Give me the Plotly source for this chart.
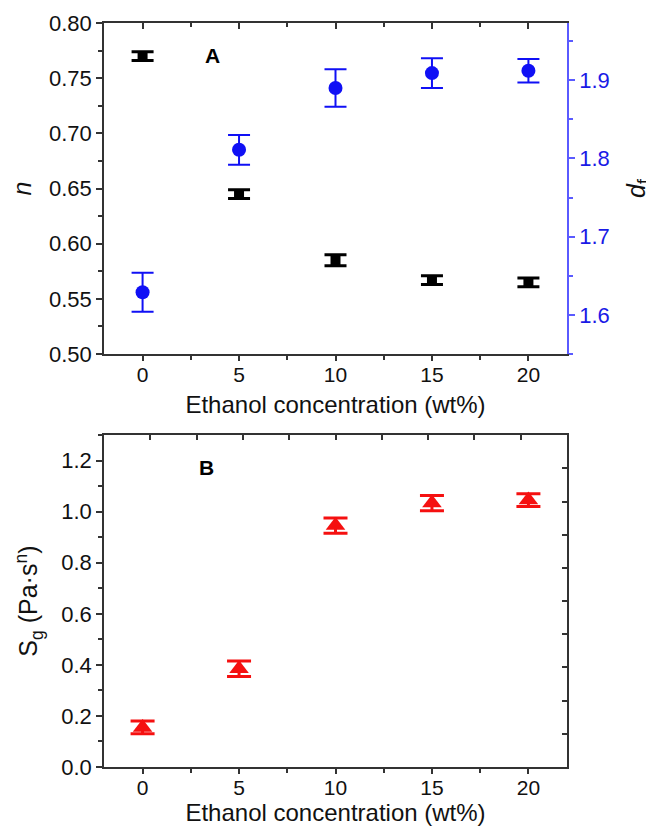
import plotly.graph_objects as go

conc = [0, 5, 10, 15, 20]
n_vals = [0.770, 0.645, 0.585, 0.567, 0.565]
n_err = [0.004, 0.004, 0.005, 0.004, 0.004]
df_vals = [1.629, 1.811, 1.890, 1.909, 1.912]
df_err = [0.025, 0.019, 0.024, 0.019, 0.015]
sg_vals = [0.155, 0.385, 0.946, 1.034, 1.046]
sg_err = [0.025, 0.030, 0.030, 0.030, 0.025]

FONT = "Arial, Liberation Sans, sans-serif"
AX = "#333333"
BLUE = "#1010f5"
RED = "#f51010"

fig = go.Figure()

fig.add_trace(go.Scatter(
    x=conc, y=n_vals, mode="markers", xaxis="x", yaxis="y",
    marker=dict(symbol="square", size=10, color="black"),
    error_y=dict(type="data", array=n_err, color="black", thickness=3, width=11),
    showlegend=False))
fig.add_trace(go.Scatter(
    x=conc, y=df_vals, mode="markers", xaxis="x", yaxis="y2",
    marker=dict(symbol="circle", size=14, color=BLUE),
    error_y=dict(type="data", array=df_err, color=BLUE, thickness=2, width=11),
    showlegend=False))
# invisible helpers for frame axes
fig.add_trace(go.Scatter(x=[None], y=[None], xaxis="x3", yaxis="y", showlegend=False, hoverinfo="skip"))
fig.add_trace(go.Scatter(x=[None], y=[None], xaxis="x4", yaxis="y4", showlegend=False, hoverinfo="skip"))
fig.add_trace(go.Scatter(
    x=conc, y=sg_vals, mode="markers", xaxis="x2", yaxis="y3",
    marker=dict(symbol="triangle-up", size=17, color=RED),
    error_y=dict(type="data", array=sg_err, color=RED, thickness=3, width=12),
    showlegend=False))

tickfont = dict(family=FONT, size=22, color="#111111")
xtickfont = dict(family=FONT, size=21, color="#111111")
titlefont = dict(family=FONT, size=25, color="#111111")
xtitlefont = dict(family=FONT, size=24, color="#111111")

# figure is 646x818 because the page adds an 8px body margin
W, H = 646, 818
ML, MR, MT, MB = 96, 87, 15, 59
top_dom = [0.555, 1.0]
bot_dom = [0.0, 0.446]

common = dict(showline=True, linecolor=AX, linewidth=1.5, showgrid=False, zeroline=False,
              automargin=False, tickwidth=1.5, tickcolor=AX)

fig.update_layout(
    width=W, height=H,
    margin=dict(l=ML, r=MR, t=MT, b=MB),
    paper_bgcolor="white", plot_bgcolor="white",
    font=dict(family=FONT),
    xaxis=dict(domain=[0, 1], anchor="y", range=[-2, 22], tickvals=[0, 5, 10, 15, 20],
               ticks="outside", ticklen=5, ticklabelstandoff=-4,
               minor=dict(dtick=2.5, tick0=0, ticks="outside", ticklen=4, tickcolor=AX, showgrid=False),
               tickfont=xtickfont,
               title=dict(text="Ethanol concentration (wt%)", font=xtitlefont, standoff=11), **common),
    xaxis3=dict(overlaying="x", anchor="y", side="top", range=[-2, 22], tickvals=[0, 5, 10, 15, 20],
                ticks="inside", ticklen=6, showticklabels=False,
                minor=dict(dtick=2.5, tick0=0, ticks="inside", ticklen=4, tickcolor=AX, showgrid=False),
                **common),
    yaxis=dict(domain=top_dom, anchor="x", range=[0.50, 0.80], dtick=0.05, tickformat=".2f",
               ticks="outside", ticklen=6,
               minor=dict(dtick=0.025, ticks="outside", ticklen=4, tickcolor=AX, showgrid=False),
               tickfont=tickfont,
               title=dict(text="<i>n</i>", font=titlefont, standoff=20), **common),
    yaxis2=dict(overlaying="y", anchor="x", side="right", range=[1.55, 1.973],
                tickvals=[1.6, 1.7, 1.8, 1.9], ticktext=["1.6", "1.7", "1.8", "1.9"],
                ticks="outside", ticklen=6, tickwidth=1.5, tickcolor="#5a5aff",
                showline=True, linecolor="#5a5aff", linewidth=1.5, showgrid=False, zeroline=False,
                automargin=False,
                minor=dict(tickvals=[1.55, 1.65, 1.75, 1.85, 1.95], ticks="outside", ticklen=4,
                           tickcolor="#5a5aff", showgrid=False),
                tickfont=dict(family=FONT, size=22, color="#1a1ae6"),
                title=dict(text="<i>d</i><sub>f</sub>", font=titlefont, standoff=20)),
    xaxis2=dict(domain=[0, 1], anchor="y3", range=[-2, 22], tickvals=[0, 5, 10, 15, 20],
                ticks="outside", ticklen=5, ticklabelstandoff=-4,
                minor=dict(dtick=2.5, tick0=0, ticks="outside", ticklen=4, tickcolor=AX, showgrid=False),
                tickfont=xtickfont,
                title=dict(text="Ethanol concentration (wt%)", font=xtitlefont, standoff=8), **common),
    yaxis3=dict(domain=bot_dom, anchor="x2", range=[0, 1.3], dtick=0.2, tickformat=".1f",
                ticks="outside", ticklen=6,
                minor=dict(dtick=0.1, ticks="outside", ticklen=4, tickcolor=AX, showgrid=False),
                tickfont=tickfont,
                title=dict(text="S<sub>g</sub> (Pa·s<sup>n</sup>)", font=titlefont, standoff=16), **common),
    xaxis4=dict(overlaying="x2", anchor="y4", side="top", range=[0, 10], dtick=1,
                ticks="inside", ticklen=5, showticklabels=False, **common),
    yaxis4=dict(overlaying="y3", anchor="x4", side="right", range=[0, 10], dtick=1,
                ticks="inside", ticklen=5, showticklabels=False, **common),
    annotations=[
        dict(text="<b>A</b>", x=3.6, y=0.771, xref="x", yref="y", showarrow=False,
             font=dict(family=FONT, size=21, color="black")),
        dict(text="<b>B</b>", x=3.3, y=1.175, xref="x2", yref="y3", showarrow=False,
             font=dict(family=FONT, size=21, color="black")),
    ],
)

fig.write_html("out.html")
